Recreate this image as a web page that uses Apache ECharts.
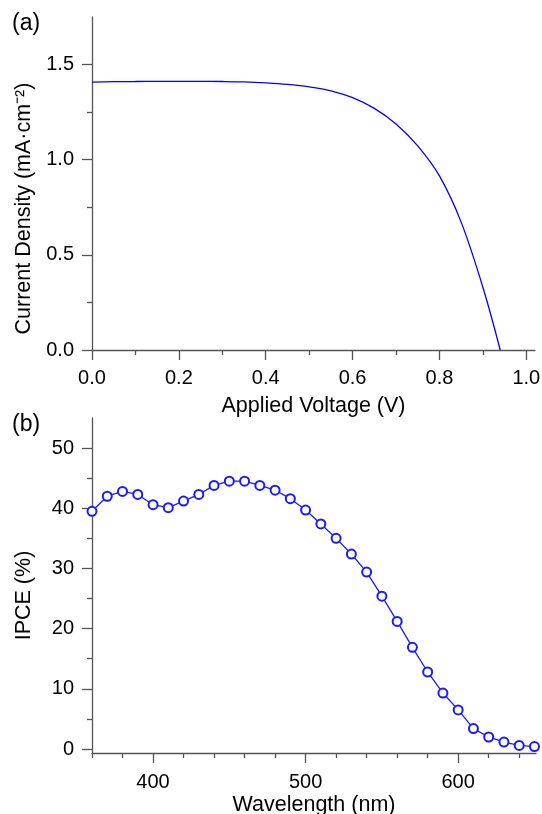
<!DOCTYPE html>
<html lang="en">
<head>
    <meta charset="utf-8">
    <title>J-V and IPCE</title>
    <script src="https://cdn.jsdelivr.net/npm/echarts@6.0.0/dist/echarts.min.js"></script>
    <style>
        html, body, #main {
            width: 100%;
            height: 100%;
            margin: 0;
            padding: 0;
            overflow: hidden;
            background-color: #ffffff;
        }
    </style>
</head>
<body>
<div id="main"></div>
<script>
    // (a) J-V curve
    var voltage = [0, 0.05, 0.1, 0.15, 0.2, 0.25, 0.3, 0.35, 0.4, 0.45, 0.5, 0.55, 0.6, 0.65,
        0.7, 0.75, 0.8, 0.85, 0.9, 0.94];
    var current = [1.408, 1.410, 1.411, 1.412, 1.412, 1.412, 1.411, 1.409, 1.404, 1.396, 1.383,
        1.362, 1.326, 1.270, 1.188, 1.073, 0.915, 0.672, 0.330, 0];
    var voltageLabels = [0, 0.2, 0.4, 0.6, 0.8, 1.0];
    var voltageMinor = [0.1, 0.3, 0.5, 0.7, 0.9];
    var currentLabels = [0, 0.5, 1.0, 1.5];
    var currentMinor = [0.25, 0.75, 1.25];

    // (b) IPCE
    var wavelength = [360, 370, 380, 390, 400, 410, 420, 430, 440, 450, 460, 470, 480, 490, 500,
        510, 520, 530, 540, 550, 560, 570, 580, 590, 600, 610, 620, 630, 640, 650];
    var ipce = [39.5, 42.0, 42.8, 42.3, 40.6, 40.1, 41.2, 42.3, 43.8, 44.5, 44.5, 43.8, 43.0, 41.6, 39.7,
        37.4, 35.0, 32.4, 29.4, 25.4, 21.2, 16.9, 12.8, 9.3, 6.5, 3.4, 2.0, 1.15, 0.6, 0.4];
    var wavelengthLabels = [400, 500, 600];
    var wavelengthMinor = [360, 380, 420, 440, 460, 480, 520, 540, 560, 580, 620, 640];
    var ipceLabels = [0, 10, 20, 30, 40, 50];
    var ipceMinor = [5, 15, 25, 35, 45];

    var axisColor = '#555555';
    var font = 'Liberation Sans, Arial, sans-serif';

    function mainAxis(extra) {
        var ax = {
            type: 'value',
            splitLine: {show: false},
            axisLine: {onZero: false, lineStyle: {color: axisColor, width: 1.3}},
            nameTextStyle: {color: '#000', fontFamily: font, fontSize: 21.5}
        };
        return Object.assign(ax, extra);
    }

    function minorAxis(extra) {
        var ax = {
            type: 'value',
            splitLine: {show: false},
            axisLine: {show: false, onZero: false},
            axisLabel: {show: false}
        };
        return Object.assign(ax, extra);
    }

    function ticks(len, values) {
        return {length: len, customValues: values, lineStyle: {color: axisColor, width: 1.3}};
    }

    var jv = voltage.map(function (v, i) { return [v, current[i]]; });
    var eqe = wavelength.map(function (w, i) { return [w, ipce[i]]; });

    var myChart = echarts.init(document.getElementById('main'));
    var option = {
        animation: false,
        grid: [
            {left: 92, top: 17, right: 7, height: 333, outerBoundsMode: 'none', containLabel: false},
            {left: 92, top: 418, right: 6, height: 335, outerBoundsMode: 'none', containLabel: false}
        ],
        xAxis: [
            mainAxis({
                gridIndex: 0, min: 0, max: 1.02, position: 'bottom',
                name: 'Applied Voltage (V)', nameLocation: 'middle', nameGap: 45,
                axisTick: ticks(10, voltageLabels),
                axisLabel: {color: '#000', fontFamily: font, fontSize: 20, margin: 18,
                    customValues: voltageLabels,
                    formatter: function (v) { return v.toFixed(1); }}
            }),
            minorAxis({gridIndex: 0, min: 0, max: 1.02, position: 'bottom',
                axisTick: ticks(5, voltageMinor)}),
            mainAxis({
                gridIndex: 1, min: 360, max: 651, position: 'bottom',
                name: 'Wavelength (nm)', nameLocation: 'middle', nameGap: 41,
                axisTick: ticks(10, wavelengthLabels),
                axisLabel: {color: '#000', fontFamily: font, fontSize: 20, margin: 19,
                    customValues: wavelengthLabels}
            }),
            minorAxis({gridIndex: 1, min: 360, max: 651, position: 'bottom',
                axisTick: ticks(5, wavelengthMinor)})
        ],
        yAxis: [
            mainAxis({
                gridIndex: 0, min: 0, max: 1.75, position: 'left',
                name: 'Current Density (mA·cm⁻²)', nameLocation: 'middle', nameGap: 57,
                nameTextStyle: {color: '#000', fontFamily: font, fontSize: 21.5, padding: [0, 50, 0, 0]},
                axisTick: ticks(10, currentLabels),
                axisLabel: {color: '#000', fontFamily: font, fontSize: 20, margin: 18,
                    customValues: currentLabels,
                    formatter: function (v) { return v.toFixed(1); }}
            }),
            minorAxis({gridIndex: 0, min: 0, max: 1.75, position: 'left',
                axisTick: ticks(5, currentMinor)}),
            mainAxis({
                gridIndex: 1, min: -0.66, max: 55, position: 'left',
                name: 'IPCE (%)', nameLocation: 'middle', nameGap: 57,
                nameTextStyle: {color: '#000', fontFamily: font, fontSize: 21.5, padding: [0, 20, 0, 0]},
                axisTick: ticks(10, ipceLabels),
                axisLabel: {color: '#000', fontFamily: font, fontSize: 20, margin: 18,
                    customValues: ipceLabels}
            }),
            minorAxis({gridIndex: 1, min: -0.66, max: 55, position: 'left',
                axisTick: ticks(5, ipceMinor)})
        ],
        graphic: [
            {type: 'text', left: 12, top: 12,
                style: {text: '(a)', fill: '#000', font: '23px Liberation Sans, Arial, sans-serif'}},
            {type: 'text', left: 12, top: 413,
                style: {text: '(b)', fill: '#000', font: '23px Liberation Sans, Arial, sans-serif'}}
        ],
        series: [
            {
                name: 'J-V',
                type: 'line',
                xAxisIndex: 0,
                yAxisIndex: 0,
                data: jv,
                smooth: 0.3,
                showSymbol: false,
                lineStyle: {color: '#0000ff', width: 1.3}
            },
            {
                name: 'IPCE',
                type: 'line',
                xAxisIndex: 2,
                yAxisIndex: 2,
                data: eqe,
                symbol: 'emptyCircle',
                symbolSize: 9,
                itemStyle: {color: '#1a1aff', borderWidth: 1.3},
                lineStyle: {color: '#1a1aff', width: 1.3}
            }
        ]
    };
    myChart.setOption(option);
</script>
</body>
</html>
